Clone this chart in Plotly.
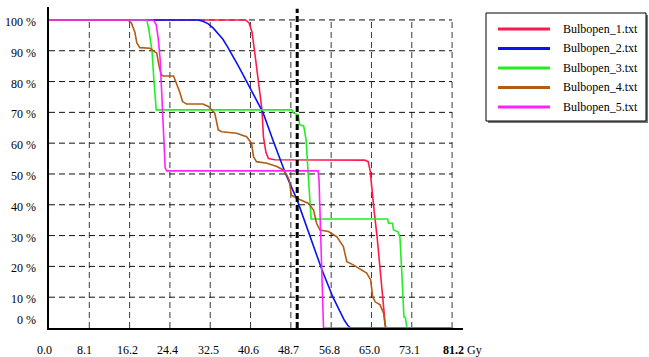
import plotly.graph_objects as go

# Cumulative DVH data: dose in Gy, volume in %
names = ["Bulbopen_1.txt", "Bulbopen_2.txt", "Bulbopen_3.txt", "Bulbopen_4.txt", "Bulbopen_5.txt"]
colors = ["#ff1a4b", "#0a14f0", "#22ee22", "#b35c12", "#ff22ff"]

dose_1 = [0, 39.6, 40.3, 40.9, 41.4, 42.1, 42.6, 42.9, 43.2, 43.7, 44.2, 45.5, 63.6, 64.3, 64.7,
          65.0, 65.5, 66.1, 66.6, 67.1, 67.5, 67.8, 81.2]
vol_1 = [100, 100, 99, 96, 90, 81.5, 75, 70.8, 62, 57, 55, 54.6, 54.5, 54, 51,
         45, 38, 29.5, 21, 12, 5, 0, 0]

dose_2 = [0, 30.0, 31.0, 32.0, 33.0, 34.0, 35.0, 36.0, 37.0, 38.0, 39.0, 40.5, 42.0, 43.1,
          45.1, 47.6, 50.0, 52.6, 55.0, 57.2, 58.5, 59.5, 60.2, 60.8, 81.2]
vol_2 = [100, 100, 99.6, 98.8, 97.5, 95.8, 93.8, 91.2, 88.5, 85.5, 82.5, 78, 73.5, 70,
         61, 50.3, 41.5, 29.5, 18.8, 10, 5.5, 2.5, 0.8, 0, 0]

dose_3 = [0, 19.7, 20.1, 20.75, 21.15, 21.6, 48.9, 49.2, 50.2, 50.5, 51.3, 51.8, 52.2, 52.5,
          52.8, 68.2, 68.4, 69.2, 69.4, 70.3, 70.7, 71.1, 71.5, 71.8, 72.1, 81.2]
vol_3 = [100, 100, 97, 90, 80, 70.8, 70.8, 69.8, 69.2, 66, 65.6, 61, 50.3, 42,
         35.4, 35.4, 34, 34, 31.8, 31.2, 29.5, 17, 3.6, 3.3, 0, 0]

dose_4 = [0, 15.9, 16.6, 17.3, 17.7, 18.3, 20.35, 21.7, 22.2, 22.6, 23.0, 25.1, 25.4, 26.4,
          26.9, 27.7, 31.0, 32.1, 33.4, 34.1, 34.8, 37.8, 39.8, 40.8, 41.2, 41.8, 43.9,
          45.9, 47.2, 47.9, 48.4, 48.8, 49.9, 52.2, 53.3, 53.9, 54.6, 56.3, 58.0, 59.3,
          60.0, 61.3, 64.0, 64.8, 65.2, 65.7, 66.7, 67.4, 67.7, 67.9, 81.2]
vol_4 = [100, 100, 99, 96, 92.5, 91, 90.8, 89.2, 84.9, 82.2, 81.8, 81.8, 80.5, 76.3,
         73.5, 72.7, 72.7, 71.9, 69.7, 64.3, 63.7, 63.2, 62.1, 60, 55.6, 54, 53.5,
         52.4, 51.3, 49.7, 48, 43.2, 42.1, 40.5, 38.3, 34, 31.8, 31.3, 29.6, 26.4,
         21.5, 20.5, 17.8, 15.6, 10.2, 8.5, 7.5, 4.8, 1, 0, 0]

dose_5 = [0, 21.0, 21.6, 22.0, 22.4, 23.0, 23.4, 23.7, 54.2, 54.4, 54.9, 55.3, 81.2]
vol_5 = [100, 100, 98.5, 94, 87, 63, 52, 51, 51, 48, 19, 0, 0]

doses = [dose_1, dose_2, dose_3, dose_4, dose_5]
vols = [vol_1, vol_2, vol_3, vol_4, vol_5]

x_ticks = [0.0, 8.12, 16.24, 24.36, 32.48, 40.6, 48.72, 56.84, 64.96, 73.08, 81.2]
x_tick_text = ["0.0", "8.1", "16.2", "24.4", "32.5", "40.6", "48.7", "56.8", "65.0", "73.1", "81.2"]
y_ticks = [0, 10, 20, 30, 40, 50, 60, 70, 80, 90, 100]
y_tick_text = [f"{v} %" for v in y_ticks]
ref_dose = 50.0

FONT = "Liberation Serif"
X_MAX, Y_MAX = 83.4, 104.2
L, R, T, B, W, H = 49, 186, 7, 29, 649, 357
PW, PH = W - L - R, H - T - B


def px_x(px):
    return (px - L) / PW


def px_y(py):
    return (H - B - py) / PH


fig = go.Figure()
shapes = []
annotations = []

# dashed grid inside the dose/volume box
for xv in x_ticks[1:]:
    shapes.append(dict(type="line", xref="x", yref="y", x0=xv, x1=xv, y0=0, y1=100,
                       line=dict(color="#3a3a3a", width=1, dash="6px,4px"), layer="below"))
for yv in y_ticks[1:]:
    shapes.append(dict(type="line", xref="x", yref="y", x0=0, x1=x_ticks[-1], y0=yv, y1=yv,
                       line=dict(color="#111111", width=1, dash="6px,4px"), layer="below"))

for name, color, d, v in zip(names, colors, doses, vols):
    fig.add_trace(go.Scatter(x=d, y=v, mode="lines", name=name,
                             line=dict(color=color, width=1.6), showlegend=False))

# reference dose marker
shapes.append(dict(type="line", xref="x", yref="y", x0=ref_dose, x1=ref_dose, y0=0, y1=103.6,
                   line=dict(color="black", width=3, dash="6px,3px"), layer="above"))

# tick labels
for xv, txt in zip(x_ticks, x_tick_text):
    if txt == x_tick_text[-1]:
        annotations.append(dict(x=xv, y=px_y(350), xref="x", yref="paper", text=f"<b>{txt}</b> Gy",
                                showarrow=False, xanchor="left", yanchor="middle", xshift=-11,
                                font=dict(family=FONT, size=12, color="black")))
    else:
        shift = -5 if len(txt) == 3 else -2
        annotations.append(dict(x=xv, y=px_y(350), xref="x", yref="paper", text=txt,
                                showarrow=False, xanchor="center", yanchor="middle", xshift=shift,
                                font=dict(family=FONT, size=12, color="black")))
for yv, txt in zip(y_ticks, y_tick_text):
    annotations.append(dict(x=0, y=yv, xref="paper", yref="y", text=txt, showarrow=False,
                            xanchor="right", yanchor="middle", xshift=-11,
                            yshift=8 if yv == 0 else -2,
                            font=dict(family=FONT, size=12, color="black")))

# legend box with shadow
lx0, lx1, ly0, ly1 = 486, 646, 13, 121
shapes.append(dict(type="rect", xref="paper", yref="paper", x0=px_x(lx0 + 2), x1=px_x(lx1 + 2),
                   y0=px_y(ly1 + 2), y1=px_y(ly0 + 2), fillcolor="#777777",
                   line=dict(width=0), layer="above"))
shapes.append(dict(type="rect", xref="paper", yref="paper", x0=px_x(lx0), x1=px_x(lx1),
                   y0=px_y(ly1), y1=px_y(ly0), fillcolor="white",
                   line=dict(color="black", width=1), layer="above"))
row_y = [29, 48.5, 68, 87.5, 107]
for name, color, ry in zip(names, colors, row_y):
    shapes.append(dict(type="line", xref="paper", yref="paper", x0=px_x(498), x1=px_x(550),
                       y0=px_y(ry), y1=px_y(ry), line=dict(color=color, width=3), layer="above"))
    annotations.append(dict(x=px_x(561), y=px_y(ry), xref="paper", yref="paper", text=name,
                            showarrow=False, xanchor="left", yanchor="middle",
                            font=dict(family=FONT, size=12, color="black")))

fig.update_layout(
    width=W, height=H,
    margin=dict(l=L, r=R, t=T, b=B, pad=0),
    paper_bgcolor="white", plot_bgcolor="white",
    shapes=shapes, annotations=annotations,
    font=dict(family=FONT, size=12, color="black"),
)
fig.update_xaxes(range=[0, X_MAX], showgrid=False, zeroline=False, showticklabels=False,
                 ticks="", showline=True, linecolor="black", linewidth=2, mirror=False,
                 fixedrange=True)
fig.update_yaxes(range=[0, Y_MAX], showgrid=False, zeroline=False, showticklabels=False,
                 ticks="", showline=True, linecolor="black", linewidth=2, mirror=False,
                 fixedrange=True)

fig.write_html("out.html", config={"displayModeBar": False})
